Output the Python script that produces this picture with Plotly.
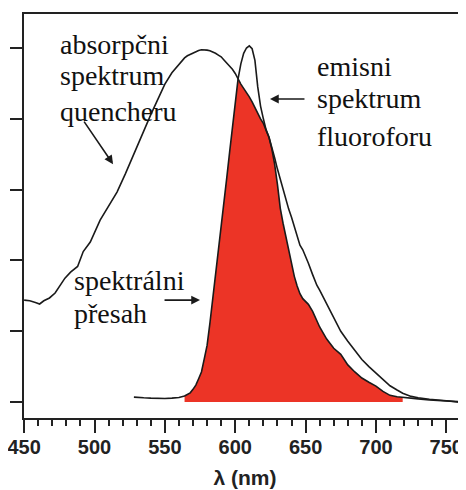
import plotly.graph_objects as go

# ---- data ----
wavelength = [450, 454, 458, 461, 464, 468, 472, 476, 479, 483,
              488, 492, 497, 504, 510, 516, 522, 527, 528, 530,
              535, 540, 545, 550, 555, 560, 564, 566, 568, 570,
              572, 574, 576, 578, 580, 582, 584, 586, 588, 590,
              592, 594, 596, 598, 600, 602, 604, 606, 608, 610,
              612, 614, 616, 618, 620, 622, 624, 626, 628, 630,
              632, 634, 636, 638, 640, 642, 644, 646, 648, 650,
              652, 655, 658, 660, 665, 670, 675, 680, 685, 690,
              695, 700, 705, 710, 715, 719, 725, 730, 738, 745,
              752, 758, 764]

absorption_quencher = [0.288, 0.286, 0.281, 0.277, 0.286, 0.294, 0.308, 0.333, 0.350, 0.367,
                       0.383, 0.425, 0.452, 0.514, 0.553, 0.593, 0.645, 0.692, 0.700, 0.718,
                       0.762, 0.812, 0.855, 0.898, 0.930, 0.955, 0.972, 0.978, 0.982, 0.987,
                       0.991, 0.993, 0.995, 0.995, 0.994, 0.992, 0.989, 0.985, 0.980, 0.975,
                       0.966, 0.958, 0.950, 0.940, 0.928, 0.912, 0.898, 0.886, 0.875, 0.862,
                       0.848, 0.832, 0.814, 0.800, 0.787, 0.768, 0.748, 0.715, 0.672, 0.615,
                       0.548, 0.505, 0.465, 0.430, 0.388, 0.355, 0.328, 0.306, 0.292, 0.284,
                       0.276, 0.256, 0.230, 0.212, 0.178, 0.152, 0.135, 0.105, 0.085, 0.068,
                       0.056, 0.045, 0.030, 0.019, 0.015, 0.013, 0.011, 0.009, 0.006, 0.004,
                       0.002, 0.001, 0.000]

emission_fluorophore = [None] * 18 + [0.014, 0.013,
                        0.012, 0.011, 0.010, 0.010, 0.011, 0.013, 0.017, 0.021, 0.026, 0.036,
                        0.048, 0.066, 0.085, 0.122, 0.160, 0.222, 0.288, 0.357, 0.428, 0.497,
                        0.565, 0.634, 0.705, 0.775, 0.843, 0.912, 0.955, 0.985, 1.000, 1.006,
                        0.998, 0.965, 0.890, 0.836, 0.800, 0.768, 0.748, 0.722, 0.690, 0.658,
                        0.628, 0.599, 0.570, 0.545, 0.522, 0.497, 0.465, 0.443, 0.430, 0.412,
                        0.392, 0.360, 0.330, 0.316, 0.278, 0.240, 0.200, 0.172, 0.147, 0.120,
                        0.100, 0.082, 0.064, 0.046, 0.034, 0.025, 0.016, 0.012, 0.008, 0.006,
                        0.003, 0.000, -0.003]

overlap_start, overlap_end = 564, 719   # extent of the red "spectral overlap" region

x_ticks = [450, 500, 550, 600, 650, 700, 750]
y_ticks = [0, 0.2, 0.4, 0.6, 0.8, 1.0]

label_absorption = ["absorpčni", "spektrum", "quencheru"]
label_emission = ["emisni", "spektrum", "fluoroforu"]
label_overlap = ["spektrálni", "přesah"]

# ---- derived overlap (min of the two spectra) ----
ov_x, ov_y = [], []
for w, a, e in zip(wavelength, absorption_quencher, emission_fluorophore):
    if e is not None and overlap_start <= w <= overlap_end:
        ov_x.append(w)
        ov_y.append(min(a, e))

RED = "#ec3426"
INK = "#1a1a1a"
SERIF = "'Liberation Serif', 'Times New Roman', 'DejaVu Serif', serif"
SANS = "'Liberation Sans Narrow', 'Arial Narrow', 'Liberation Sans', Arial, sans-serif"

fig = go.Figure()
fig.add_trace(go.Scatter(x=ov_x, y=ov_y, mode="lines", fill="tozeroy",
                         fillcolor=RED, line=dict(width=0, color=RED),
                         hoverinfo="skip", showlegend=False))
fig.add_trace(go.Scatter(x=wavelength, y=absorption_quencher, mode="lines",
                         line=dict(color=INK, width=1.6), showlegend=False))
fig.add_trace(go.Scatter(x=wavelength, y=emission_fluorophore, mode="lines",
                         line=dict(color=INK, width=1.6), connectgaps=False,
                         showlegend=False))

annotations = []

def text_lines(lines, x, ys):
    for t, y in zip(lines, ys):
        annotations.append(dict(x=x, y=y, xref="x", yref="y", text=t, showarrow=False,
                                xanchor="left", yanchor="middle",
                                font=dict(family=SERIF, size=28, color="#111")))

text_lines(label_absorption, 474.0, [1.011, 0.921, 0.822])
text_lines(label_emission, 656.5, [0.949, 0.856, 0.749])
text_lines(label_overlap, 484.0, [0.342, 0.251])

arrow_style = dict(xref="x", yref="y", text="", showarrow=True, arrowhead=2,
                   arrowsize=1.1, arrowwidth=1.6, arrowcolor=INK, axref="pixel", ayref="pixel")
annotations.append(dict(x=513.2, y=0.672, ax=-30, ay=-44, **arrow_style))
annotations.append(dict(x=624.7, y=0.856, ax=36, ay=0, **arrow_style))
annotations.append(dict(x=575.0, y=0.288, ax=-37, ay=0, **arrow_style))

# the page body adds an 8 px offset, margins compensate for it
fig.update_layout(
    width=466, height=490,
    margin=dict(l=16, r=8, t=6, b=80, autoexpand=False),
    paper_bgcolor="white", plot_bgcolor="white",
    annotations=annotations,
    xaxis=dict(range=[449.9, 764], tickvals=x_ticks, ticktext=[str(v) for v in x_ticks],
               automargin=False, ticklabeloverflow="allow",
               ticks="outside", ticklen=13, tickwidth=2, tickcolor="#222",
               minor=dict(dtick=10, tick0=450, ticks="outside", ticklen=6, tickwidth=1.5,
                          tickcolor="#222", showgrid=False),
               showline=True, linewidth=2, linecolor="#222", mirror=True,
               showgrid=False, zeroline=False,
               tickfont=dict(family=SANS, size=20, color="#222", weight="bold"),
               ticklabelstandoff=-3,
               title=dict(text="λ (nm)", standoff=13,
                          font=dict(family=SANS, size=21, color="#222", weight="bold"))),
    yaxis=dict(range=[-0.045, 1.096], tickvals=y_ticks, showticklabels=False,
               automargin=False,
               ticks="outside", ticklen=12, tickwidth=2, tickcolor="#222",
               showline=True, linewidth=2, linecolor="#222",
               showgrid=False, zeroline=False),
)

fig.write_html("out.html")
